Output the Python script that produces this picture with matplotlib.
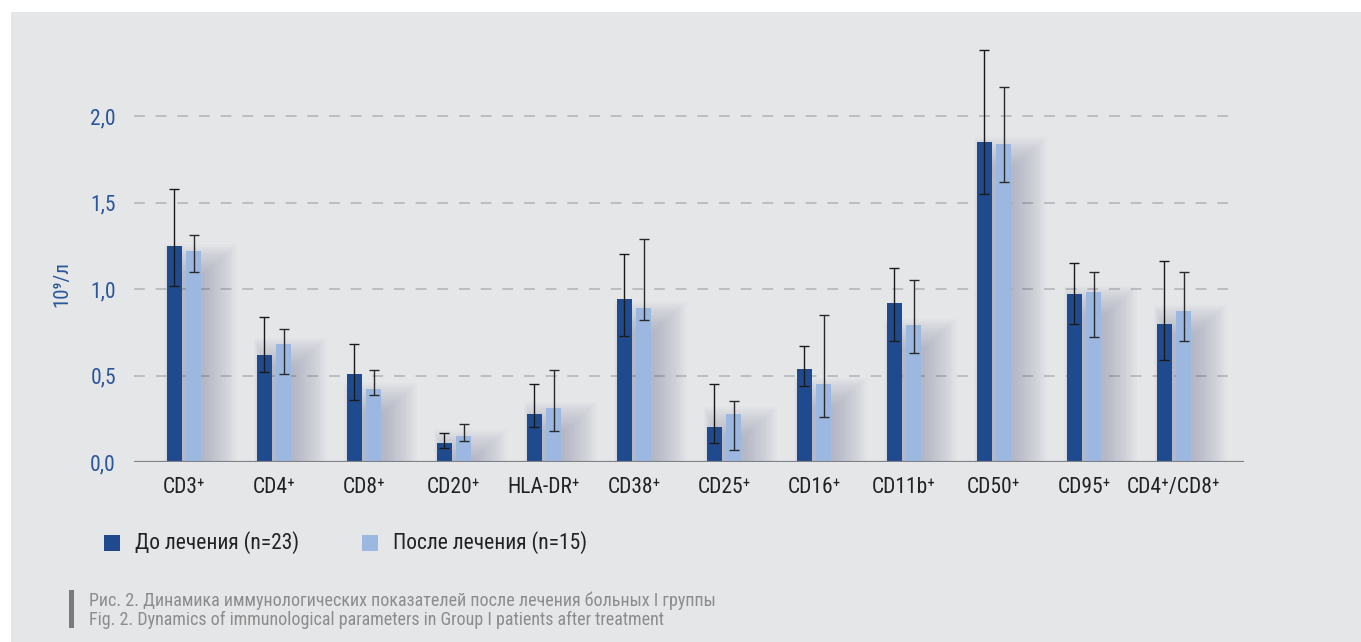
import numpy as np
import matplotlib
matplotlib.use("Agg")
import matplotlib.pyplot as plt
from matplotlib.patches import Rectangle
from matplotlib import font_manager

categories = ["CD3⁺", "CD4⁺", "CD8⁺", "CD20⁺", "HLA-DR⁺", "CD38⁺", "CD25⁺",
              "CD16⁺", "CD11b⁺", "CD50⁺", "CD95⁺", "CD4⁺/CD8⁺"]

# до лечения (n=23)
before = [1.25, 0.62, 0.51, 0.11, 0.28, 0.94, 0.20, 0.54, 0.92, 1.85, 0.97, 0.80]
before_lo = [1.02, 0.52, 0.36, 0.08, 0.20, 0.73, 0.11, 0.44, 0.70, 1.55, 0.80, 0.59]
before_hi = [1.58, 0.84, 0.68, 0.17, 0.45, 1.20, 0.45, 0.67, 1.12, 2.38, 1.15, 1.16]

# после лечения (n=15)
after = [1.22, 0.68, 0.42, 0.15, 0.31, 0.89, 0.28, 0.45, 0.79, 1.84, 0.98, 0.87]
after_lo = [1.10, 0.51, 0.39, 0.12, 0.18, 0.82, 0.07, 0.26, 0.63, 1.62, 0.72, 0.70]
after_hi = [1.31, 0.77, 0.53, 0.22, 0.53, 1.29, 0.35, 0.85, 1.05, 2.17, 1.10, 1.10]

legend_labels = ["До лечения (n=23)", "После лечения (n=15)"]
yticks = [0.0, 0.5, 1.0, 1.5, 2.0]

DARK = "#1f4b8e"
LIGHT = "#9db8e0"
BLUE_TXT = "#2a569b"
BG = "#e5e6e8"

# ищем узкий шрифт, если есть
names = {f.name for f in font_manager.fontManager.ttflist}
narrow = [n for n in ["Liberation Sans Narrow", "Roboto Condensed", "Open Sans Condensed",
                      "Noto Sans Display", "DejaVu Sans"] if n in names]
FONT = narrow + ["DejaVu Sans"]
plt.rcParams["font.family"] = FONT
plt.rcParams["font.stretch"] = "condensed"

W, H = 1361, 642
fig = plt.figure(figsize=(W / 100, H / 100), dpi=100)
fig.patch.set_facecolor("white")
fig.patches.append(Rectangle((11 / W, 0), 1, (H - 12) / H, transform=fig.transFigure,
                             facecolor=BG, edgecolor="none", zorder=-10))

ymax = 2.45
ax = fig.add_axes([134 / W, (H - 462) / H, 1110 / W, ymax * 173 / H])
ax.set_facecolor("none")

x = np.arange(len(categories))
bw = 0.167
off = 0.109
px = 1 / 90  # один пиксель в единицах оси x
py = 1 / 173

# мягкая тень за столбиками
for xi, a in zip(x, after):
    x0 = xi - off + 4 * px
    x1 = xi + off + bw / 2 + 4 * px
    for k in range(14):
        g = 2.2 * k
        ax.add_patch(Rectangle((x0 - g * px * 0.5, 0), (x1 - x0) + g * px * 1.6,
                               a - 22 * py + g * py, facecolor="#4a5580",
                               edgecolor="none", alpha=0.024, zorder=1))

err_b = [np.array(before) - np.array(before_lo), np.array(before_hi) - np.array(before)]
err_a = [np.array(after) - np.array(after_lo), np.array(after_hi) - np.array(after)]

ax.bar(x - off, before, bw, color=DARK, zorder=3, label=legend_labels[0])
ax.bar(x + off, after, bw, color=LIGHT, zorder=3, label=legend_labels[1])
ax.errorbar(x - off, before, yerr=err_b, fmt="none", ecolor="#1a1a1a",
            elinewidth=1.0, capsize=3.8, capthick=1.0, zorder=4)
ax.errorbar(x + off, after, yerr=err_a, fmt="none", ecolor="#2a2a2a",
            elinewidth=1.0, capsize=3.8, capthick=1.0, zorder=4)

ax.set_xlim(-50 / 90, 1060 / 90)
ax.set_ylim(0, ymax)
for t in yticks[1:]:
    ax.plot([-50 / 90, 1053 / 90], [t, t], color="#b9babd", lw=1.3,
            dashes=(6, 6), zorder=0)
ax.axhline(0, color="#7e8086", lw=2.3, zorder=5)

for s in ax.spines.values():
    s.set_visible(False)
ax.set_yticks(yticks)
ax.set_yticklabels([f"{t:.1f}".replace(".", ",") for t in yticks],
                   color=BLUE_TXT, fontsize=15.5)
ax.tick_params(axis="y", length=0, pad=13)
ax.set_xticks(x)
ax.set_xticklabels(categories, fontsize=15.5, color="#222222")
ax.tick_params(axis="x", length=0, pad=11)

fig.text(62 / W, 1 - 284 / H, "10⁹/л", rotation=90, ha="center", va="center",
         color=BLUE_TXT, fontsize=15)

# легенда
for lx, col, lab in [(104, DARK, legend_labels[0]), (362, LIGHT, legend_labels[1])]:
    fig.patches.append(Rectangle((lx / W, 1 - 551 / H), 16 / W, 16 / H,
                                 transform=fig.transFigure, facecolor=col,
                                 edgecolor="none"))
    fig.text((lx + 31) / W, 1 - 543 / H, lab, ha="left", va="center",
             fontsize=15.5, color="#222222")

# подпись к рисунку
fig.patches.append(Rectangle((69 / W, 1 - 628 / H), 5 / W, 38 / H,
                             transform=fig.transFigure, facecolor="#7a7a7a",
                             edgecolor="none"))
fig.text(89 / W, 1 - 601 / H, "Рис. 2. Динамика иммунологических показателей после лечения больных I группы",
         ha="left", va="center", fontsize=13, color="#8c8c8c")
fig.text(89 / W, 1 - 620 / H, "Fig. 2. Dynamics of immunological parameters in Group I patients after treatment",
         ha="left", va="center", fontsize=13, color="#8c8c8c")

fig.savefig("out.png", dpi=100)
